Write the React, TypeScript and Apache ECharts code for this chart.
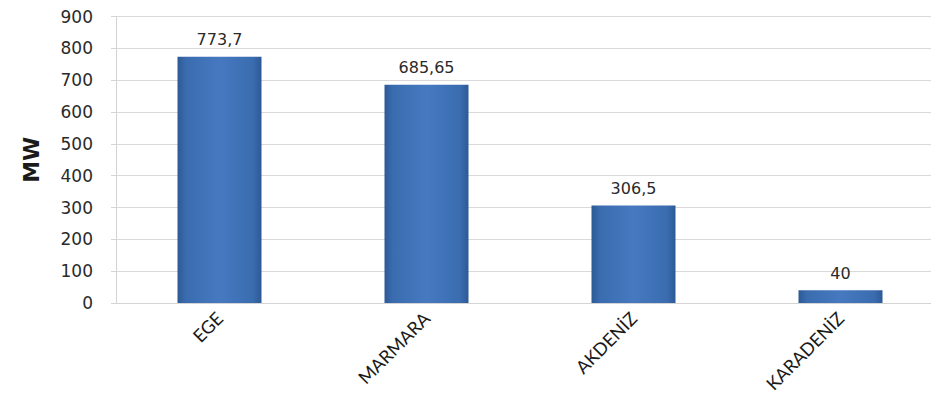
import React, { useEffect, useRef } from "react";
import * as echarts from "echarts";

const categories = ["EGE", "MARMARA", "AKDENİZ", "KARADENİZ"];
const values = [773.7, 685.65, 306.5, 40];
const yName = "MW";

export default function App() {
  const ref = useRef<HTMLDivElement>(null);
  useEffect(() => {
    if (!ref.current) return;
    const chart = echarts.init(ref.current, undefined, { renderer: "svg" });
    chart.setOption({
      animation: false,
      backgroundColor: "#ffffff",
      grid: { left: 108, top: 7, width: 828, height: 288 },
      xAxis: {
        type: "category",
        data: categories,
        axisLine: { lineStyle: { color: "#d4d4d4" } },
        axisTick: { show: false },
        axisLabel: {
          rotate: 45,
          margin: 12,
          fontFamily: "Lato, 'Open Sans', sans-serif",
          fontSize: 18,
          color: "#1a1a1a",
        },
      },
      yAxis: {
        type: "value",
        min: 0,
        max: 900,
        interval: 100,
        name: yName,
        nameLocation: "middle",
        nameGap: 74,
        nameTextStyle: {
          fontFamily: "'DejaVu Sans', sans-serif",
          fontWeight: "bold",
          fontSize: 22,
          color: "#1a1a1a",
        },
        axisLine: { show: true, lineStyle: { color: "#d4d4d4" } },
        axisTick: { show: true, length: 5, lineStyle: { color: "#d4d4d4" } },
        axisLabel: {
          margin: 23,
          fontFamily: "'DejaVu Sans', sans-serif",
          fontSize: 17,
          color: "#2a2a2a",
        },
        splitLine: { lineStyle: { color: "#d9d9d9", width: 1 } },
      },
      series: [
        {
          type: "bar",
          data: values,
          barWidth: 84,
          itemStyle: {
            color: new echarts.graphic.LinearGradient(0, 0, 1, 0, [
              { offset: 0, color: "#2d5a96" },
              { offset: 0.1, color: "#3a6caf" },
              { offset: 0.5, color: "#4679c0" },
              { offset: 0.9, color: "#3a6caf" },
              { offset: 1, color: "#2d5a96" },
            ]),
          },
          label: {
            show: true,
            position: "top",
            distance: 9,
            fontFamily: "'DejaVu Sans', sans-serif",
            fontSize: 16,
            color: "#2a2a2a",
            formatter: (p: any) => String(p.value).replace(".", ","),
          },
        },
      ],
    });
    return () => chart.dispose();
  }, []);
  return (
    <div style={{ width: 931, height: 400, overflow: "hidden" }}>
      <div ref={ref} style={{ width: 950, height: 400 }} />
    </div>
  );
}
